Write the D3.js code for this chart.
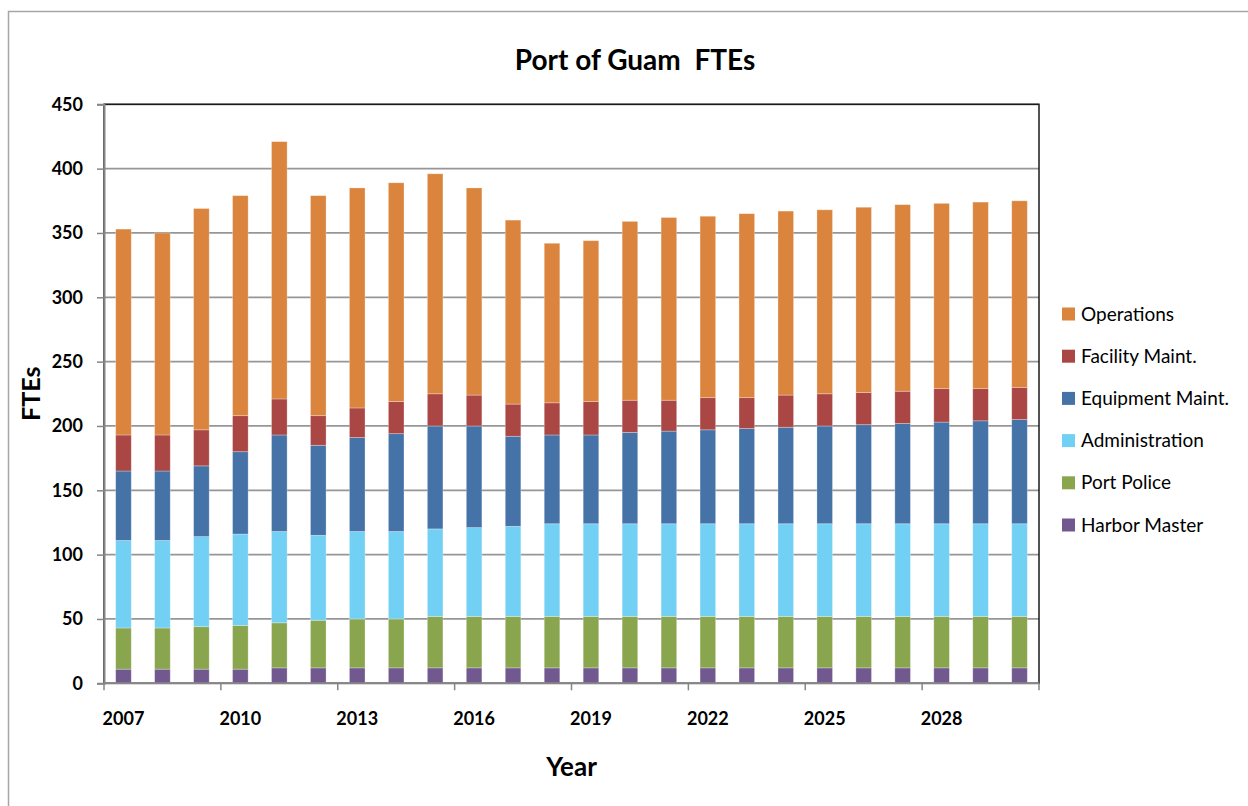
<!DOCTYPE html>
<html>
<head>
<meta charset="utf-8">
<script src="https://cdn.jsdelivr.net/npm/d3@7"></script>
<style>
  body { margin: 0; background: #fff; }
  svg { display: block; font-family: Lato, "Open Sans", sans-serif; }
</style>
</head>
<body>
<svg width="1248" height="806"></svg>
<script>
var years = d3.range(2007, 2031);
var labelYears = [2007, 2010, 2013, 2016, 2019, 2022, 2025, 2028];
var yTicks = [0, 50, 100, 150, 200, 250, 300, 350, 400, 450];

// bottom to top
var seriesNames = ["Harbor Master", "Port Police", "Administration", "Equipment Maint.", "Facility Maint.", "Operations"];
var seriesColors = ["#71588F", "#89A54E", "#71D0F4", "#4572A7", "#AA4643", "#DB843D"];

var harborMaster = [11, 11, 11, 11, 12, 12, 12, 12, 12, 12, 12, 12, 12, 12, 12, 12, 12, 12, 12, 12, 12, 12, 12, 12];
var portPolice = [32, 32, 33, 34, 35, 37, 38, 38, 40, 40, 40, 40, 40, 40, 40, 40, 40, 40, 40, 40, 40, 40, 40, 40];
var administration = [68, 68, 70, 71, 71, 66, 68, 68, 68, 69, 70, 72, 72, 72, 72, 72, 72, 72, 72, 72, 72, 72, 72, 72];
var equipmentMaint = [54, 54, 55, 64, 75, 70, 73, 76, 80, 79, 70, 69, 69, 71, 72, 73, 74, 75, 76, 77, 78, 79, 80, 81];
var facilityMaint = [28, 28, 28, 28, 28, 23, 23, 25, 25, 24, 25, 25, 26, 25, 24, 25, 24, 25, 25, 25, 25, 26, 25, 25];
var operations = [160, 157, 172, 171, 200, 171, 171, 170, 171, 161, 143, 124, 125, 139, 142, 141, 143, 143, 143, 144, 145, 144, 145, 145];

var seriesValues = [harborMaster, portPolice, administration, equipmentMaint, facilityMaint, operations];

var svg = d3.select("svg");

var plotLeft = 104, plotRight = 1039, plotTop = 104.3, plotBottom = 683.3;

// build rows for d3.stack
var table = years.map(function(yr, i) {
  var row = { year: yr };
  seriesNames.forEach(function(name, s) { row[name] = seriesValues[s][i]; });
  return row;
});
var stacked = d3.stack().keys(seriesNames)(table);

var x = d3.scaleBand().domain(years).range([plotLeft, plotRight]).paddingInner(0.6).paddingOuter(0.3);
var y = d3.scaleLinear().domain([0, 450]).range([plotBottom, plotTop]);
var color = d3.scaleOrdinal().domain(seriesNames).range(seriesColors);

// chart area border
svg.append("rect")
  .attr("x", 8.5).attr("y", 11.5)
  .attr("width", 1260).attr("height", 820)
  .attr("fill", "none")
  .attr("stroke", "#a6a6a6")
  .attr("stroke-width", 1.5);

// gridlines
svg.append("g")
  .selectAll("line")
  .data(yTicks.filter(function(d) { return d > 0; }))
  .enter().append("line")
  .attr("x1", plotLeft).attr("x2", plotRight)
  .attr("y1", function(d) { return y(d); })
  .attr("y2", function(d) { return y(d); })
  .attr("stroke", "#969696")
  .attr("stroke-width", 1.8);

// plot area border
svg.append("rect")
  .attr("x", plotLeft).attr("y", plotTop)
  .attr("width", plotRight - plotLeft).attr("height", plotBottom - plotTop)
  .attr("fill", "none")
  .attr("stroke", "#1a1a1a")
  .attr("stroke-width", 1.5);

// bars
svg.append("g")
  .selectAll("g")
  .data(stacked)
  .enter().append("g")
  .attr("fill", function(d) { return color(d.key); })
  .selectAll("rect")
  .data(function(d) { return d; })
  .enter().append("rect")
  .attr("x", function(d) { return x(d.data.year); })
  .attr("y", function(d) { return y(d[1]); })
  .attr("width", x.bandwidth())
  .attr("height", function(d) { return y(d[0]) - y(d[1]); })
  .attr("stroke", "#ffffff")
  .attr("stroke-opacity", 0.35)
  .attr("stroke-width", 0.8);

// y axis
var yAxis = svg.append("g")
  .attr("transform", "translate(" + plotLeft + ",0)")
  .call(d3.axisLeft(y).tickValues(yTicks).tickSize(7).tickPadding(14));
yAxis.select(".domain").attr("stroke", "#868686").attr("stroke-width", 2);
yAxis.selectAll(".tick line").attr("stroke", "#868686").attr("stroke-width", 1.5);
yAxis.selectAll(".tick text")
  .attr("font-family", "Lato, sans-serif")
  .attr("font-size", "18px")
  .attr("font-weight", "bold")
  .attr("fill", "#000");

// x axis
var xAxis = svg.append("g")
  .attr("transform", "translate(0," + plotBottom + ")")
  .call(d3.axisBottom(x).tickValues(labelYears).tickSize(0).tickPadding(29));
xAxis.select(".domain").remove();
xAxis.selectAll(".tick text")
  .attr("font-family", "Lato, sans-serif")
  .attr("font-size", "18px")
  .attr("font-weight", "bold")
  .attr("fill", "#000");

svg.append("line")
  .attr("x1", plotLeft).attr("x2", plotRight)
  .attr("y1", plotBottom).attr("y2", plotBottom)
  .attr("stroke", "#868686").attr("stroke-width", 2);

// tick marks at every third category boundary
var boundaries = d3.range(0, years.length + 1, 3);
svg.append("g")
  .selectAll("line")
  .data(boundaries)
  .enter().append("line")
  .attr("x1", function(i) { return plotLeft + i * x.step(); })
  .attr("x2", function(i) { return plotLeft + i * x.step(); })
  .attr("y1", plotBottom).attr("y2", plotBottom + 7)
  .attr("stroke", "#868686").attr("stroke-width", 1.5);

// titles
svg.append("text")
  .attr("x", 635).attr("y", 70)
  .attr("text-anchor", "middle")
  .attr("font-size", "28px")
  .attr("font-weight", "bold")
  .style("white-space", "pre")
  .text("Port of Guam  FTEs");

svg.append("text")
  .attr("transform", "translate(40," + ((plotTop + plotBottom) / 2) + ") rotate(-90)")
  .attr("text-anchor", "middle")
  .attr("font-size", "25px")
  .attr("font-weight", "bold")
  .text("FTEs");

svg.append("text")
  .attr("x", (plotLeft + plotRight) / 2).attr("y", 776)
  .attr("text-anchor", "middle")
  .attr("font-size", "26px")
  .attr("font-weight", "bold")
  .text("Year");

// legend, top item is Operations
var legend = svg.append("g")
  .selectAll("g")
  .data(seriesNames.slice().reverse())
  .enter().append("g")
  .attr("transform", function(d, i) { return "translate(1062," + (314 + i * 42.2) + ")"; });

legend.append("rect")
  .attr("x", 0).attr("y", -6.5)
  .attr("width", 13).attr("height", 13)
  .attr("fill", function(d) { return color(d); });

legend.append("text")
  .attr("x", 19).attr("y", 0)
  .attr("dy", "0.35em")
  .attr("font-size", "19px")
  .attr("fill", "#000")
  .text(function(d) { return d; });
</script>
</body>
</html>
